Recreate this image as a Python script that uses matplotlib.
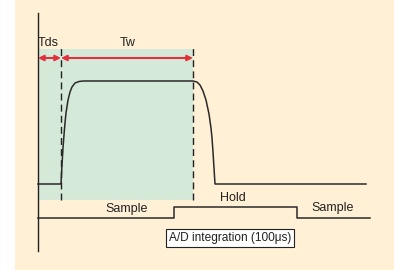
import matplotlib.pyplot as plt
from matplotlib.patches import Rectangle

# schematic diagram, units = pixels from bottom-left
# input signal
signal_t = [38, 61, 62, 63, 64, 65, 66, 68, 70, 72, 75, 79, 83,
            193, 197, 200, 203, 206, 209, 211, 212, 213, 214, 215, 366]
signal_v = [86, 86, 105, 122, 135, 147, 157, 170, 178, 183, 187, 188.5, 189,
            189, 188, 185, 179, 170, 156, 142, 132, 118, 102, 86, 86]

# sample / hold control line
sh_t = [38, 174, 174, 297, 297, 370]
sh_v = [52, 52, 63, 63, 52, 52]

t0, t_ds, t_w = 38, 61, 193          # window edges
win_bottom, win_top = 70, 221
arrow_y = 212
axis_bottom, axis_top = 19, 257

period_labels = ["Sample", "Hold", "Sample"]
period_x = [127, 233, 333]
period_y = [61, 72, 62]

cream = '#fff0d6'
green = '#d5e9d8'
red = '#e4303c'

plt.rcParams['font.family'] = ['Liberation Sans', 'DejaVu Sans']

fig = plt.figure(figsize=(3.94, 2.70), dpi=100)
ax = fig.add_axes([0, 0, 1, 1])
ax.set_xlim(0, 394)
ax.set_ylim(0, 270)
ax.axis('off')

ax.add_patch(Rectangle((15, 0), 394 - 15, 270, facecolor=cream, edgecolor='none', zorder=0))
ax.add_patch(Rectangle((t0, win_bottom), t_w - t0, win_top - win_bottom,
                       facecolor=green, edgecolor='none', zorder=1))

# vertical axis
ax.plot([t0, t0], [axis_bottom, axis_top], color='#222222', lw=1.0, zorder=3)

# dashed window edges
for xe in [t_ds, t_w]:
    ax.plot([xe, xe], [win_bottom, win_top + 1], color='#222222', lw=1.0,
            dashes=(5, 3), zorder=3)

# signal and sample/hold
ax.plot(signal_t, signal_v, color='#2a2a2a', lw=1.1, zorder=4)
ax.plot(sh_t, sh_v, color='#2a2a2a', lw=1.1, zorder=4)

# red arrows
for a, b in [(t0, t_ds), (t_ds, t_w)]:
    ax.annotate('', xy=(b, arrow_y), xytext=(a, arrow_y),
                arrowprops=dict(arrowstyle='<|-|>', color=red, lw=1.5,
                                shrinkA=0, shrinkB=0, mutation_scale=8),
                zorder=5)

ax.text(48, 227, 'Tds', fontsize=9, ha='center', va='center', color='#222222')
ax.text(128, 227, 'Tw', fontsize=9, ha='center', va='center', color='#222222')

for lab, xl, yl in zip(period_labels, period_x, period_y):
    ax.text(xl, yl, lab, fontsize=9, ha='center', va='center', color='#222222')

ax.text(230, 32, 'A/D integration (100μs)', fontsize=8.6, ha='center', va='center',
        color='#222222',
        bbox=dict(boxstyle='square,pad=0.22', facecolor='white', edgecolor='#222222', lw=0.8))

fig.savefig('out.png', dpi=100)
